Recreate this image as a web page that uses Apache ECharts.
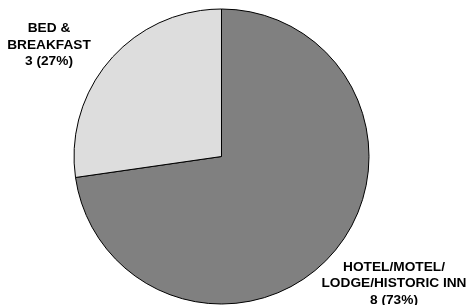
<!DOCTYPE html>
<html>
<head>
<meta charset="utf-8">
<script src="https://cdn.jsdelivr.net/npm/echarts@6/dist/echarts.min.js"></script>
<style>
html,body{margin:0;padding:0;background:#fff;}
#c{width:466px;height:305px;}
</style>
</head>
<body>
<div id="c"></div>
<script>
var categories = ['HOTEL/MOTEL/\nLODGE/HISTORIC INN', 'BED &\nBREAKFAST'];
var values = [8, 3];
var colors = ['#808080', '#dddddd'];
var labelPos = [[394, 283.5], [49, 45]];

var chart = echarts.init(document.getElementById('c'), null, {renderer: 'canvas'});
chart.setOption({
  animation: false,
  series: [{
    type: 'pie',
    center: [221.5, 156.5],
    radius: 147.5,
    startAngle: 90,
    clockwise: true,
    data: categories.map(function (n, i) {
      return {name: n, value: values[i], itemStyle: {color: colors[i]}};
    }),
    itemStyle: {borderColor: '#000', borderWidth: 1},
    label: {
      show: true,
      position: 'outside',
      formatter: function (p) { return p.name + '\n' + p.value + ' (' + Math.round(p.percent) + '%)'; },
      fontFamily: 'Liberation Sans, Arial, sans-serif',
      fontWeight: 'bold',
      fontSize: 13.7,
      lineHeight: 16.3,
      color: '#000',
      align: 'center',
      overflow: 'none',
      width: 300
    },
    labelLine: {show: false},
    labelLayout: function (p) {
      return {x: labelPos[p.dataIndex][0], y: labelPos[p.dataIndex][1], align: 'center', verticalAlign: 'middle'};
    },
    emphasis: {disabled: true}
  }]
});
</script>
</body>
</html>
